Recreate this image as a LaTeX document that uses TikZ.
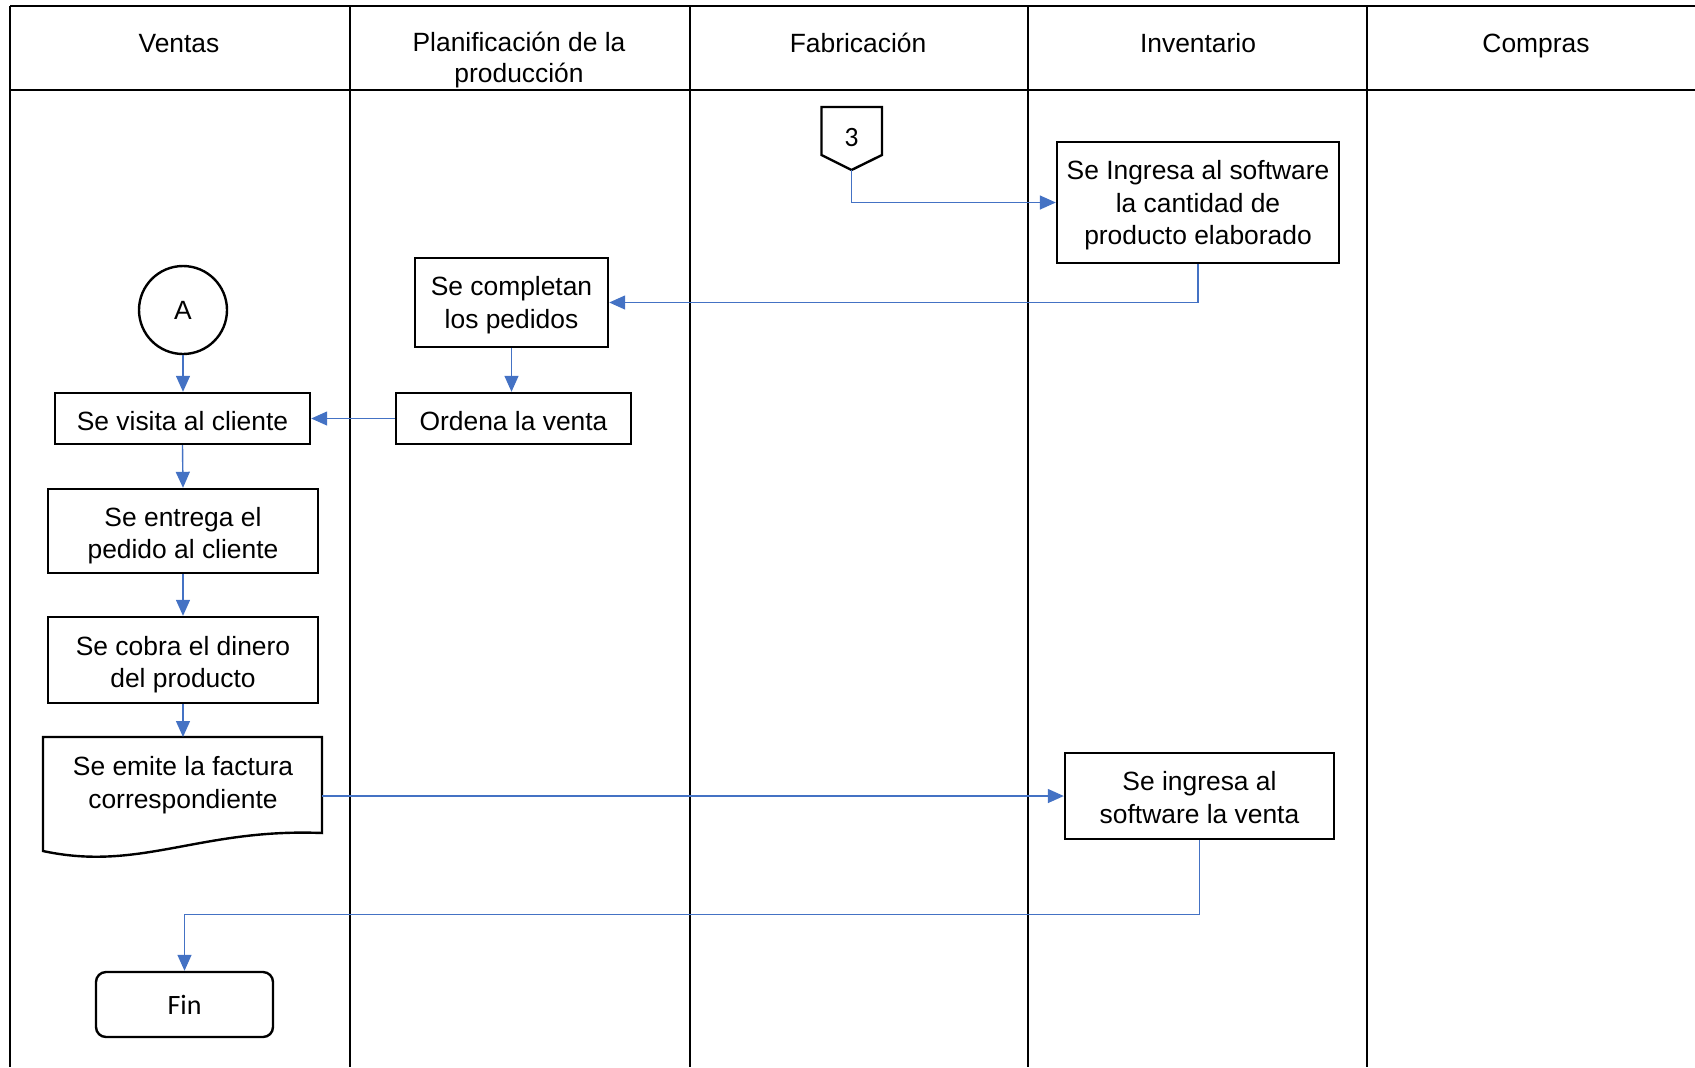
\documentclass[tikz,border=0pt]{standalone}
\usepackage{fontspec}
\setmainfont{Liberation Sans}
\newfontfamily\calfont{Carlito}
\usetikzlibrary{arrows.meta}
\definecolor{flowblue}{HTML}{4472C4}
\newcommand{\vt}{\rule{0pt}{1.1em}}
\newcommand{\vts}{\rule{0pt}{0.93em}}
\newcommand{\vb}{\rule[-0.2em]{0pt}{0.2em}}
\begin{document}
\begin{tikzpicture}[x=0.5pt,y=-0.5pt,
  lane/.style={line width=1pt,black},
  hdr/.style={font=\fontsize{13.2}{15.5}\selectfont,align=center,inner sep=0pt},
  procbox/.style={draw,line width=1.2pt,align=center,inner sep=0pt,
    font=\fontsize{13.2}{16.2}\selectfont},
  flow/.style={draw=flowblue,line width=0.7pt,-{Triangle[length=8pt,width=7pt]},
    color=flowblue}
]
\useasboundingbox (0,0) rectangle (1695,1067);
% swimlane grid
\draw[lane] (10,5.5) -- (1695,5.5);
\draw[lane] (10,90) -- (1695,90);
\foreach \xx in {10,350,690,1028,1367}{
  \draw[lane] (\xx,5.5) -- (\xx,1067);
}
% headers
\node[hdr] (hventas) at (179,43) {\vts Ventas\vb};
\node[hdr] (hplan) at (519,57) {\rule{0pt}{1em}Planificación de la\\producción\vb};
\node[hdr] (hfab) at (858,43) {\vts Fabricación\vb};
\node[hdr] (hinv) at (1198,43) {\vts Inventario\vb};
\node[hdr] (hcomp) at (1536,43) {\vts Compras\vb};

% off-page connector 3
\coordinate (p1) at (821.5,107);
\coordinate (p2) at (882,107);
\coordinate (p3) at (882,155);
\coordinate (p4) at (851.5,170);
\coordinate (p5) at (821.5,155);
\draw[line width=1.2pt,line join=miter] (p1) -- (p2) -- (p3) -- (p4) -- (p5) -- cycle;
\node[font=\calfont\fontsize{14}{16}\selectfont,inner sep=0pt] (three) at (851.5,138) {3};

% process boxes
\node[procbox,minimum width=141pt,minimum height=60.5pt] (ingresa1) at (1198,202.5)
  {\vts Se Ingresa al software\\la cantidad de\\producto elaborado\vb};
\node[procbox,minimum width=96.5pt,minimum height=44.5pt] (completan) at (511.5,302.5)
  {\vts Se completan\\los pedidos\vb};
\node[draw,circle,line width=1.2pt,minimum size=44pt,inner sep=0pt,
  font=\fontsize{13.2}{16}\selectfont] (A) at (183,310) {\raisebox{-0.5pt}{A}};
\node[procbox,minimum width=127.5pt,minimum height=25.5pt] (visita) at (182.5,418.5)
  {\vt Se visita al cliente\vb};
\node[procbox,minimum width=117.5pt,minimum height=25.5pt] (ordena) at (513.5,418.5)
  {\vt Ordena la venta\vb};
\node[procbox,minimum width=135pt,minimum height=42pt] (entrega) at (183,531)
  {\vt Se entrega el\\pedido al cliente\vb};
\node[procbox,minimum width=135pt,minimum height=43pt] (cobra) at (183,660)
  {\vt Se cobra el dinero\\del producto\vb};

% document shape
\coordinate (doctop) at (183,737);
\coordinate (docright) at (322,796);
\draw[line width=1.2pt,line join=miter] (43,737) -- (322,737) -- (322,833)
  .. controls (200,828) and (140,872) .. (43,851) -- cycle;
\node[align=center,inner sep=0pt,font=\fontsize{13.2}{16.2}\selectfont] (factura) at (183,780)
  {\vt Se emite la factura\\correspondiente\vb};

\node[procbox,minimum width=134.5pt,minimum height=43pt] (ingresa2) at (1199.5,796)
  {\rule{0pt}{1.03em}Se ingresa al\\software la venta\vb};

\node[draw,rounded corners=5pt,line width=1.2pt,minimum width=88.5pt,minimum height=32.5pt,
  inner sep=0pt,font=\calfont\fontsize{14}{16}\selectfont] (fin) at (184.5,1004.5)
  {\raisebox{-0.5pt}{Fin}};

% connectors
\draw[flow] (p4) |- (ingresa1.west);
\draw[flow] (ingresa1.south) |- (completan.east);
\draw[flow] (completan.south) -- (completan.south |- ordena.north);
\draw[flow] (ordena.west) -- (visita.east);
\draw[flow] (A.south) -- (A.south |- visita.north);
\draw[flow] (visita.south) -- (entrega.north);
\draw[flow] (entrega.south) -- (cobra.north);
\draw[flow] (cobra.south) -- (doctop);
\draw[flow] (docright) -- (ingresa2.west);
\draw[flow] (ingresa2.south) -- ++(0,74) -| (fin.north);
\end{tikzpicture}
\end{document}
